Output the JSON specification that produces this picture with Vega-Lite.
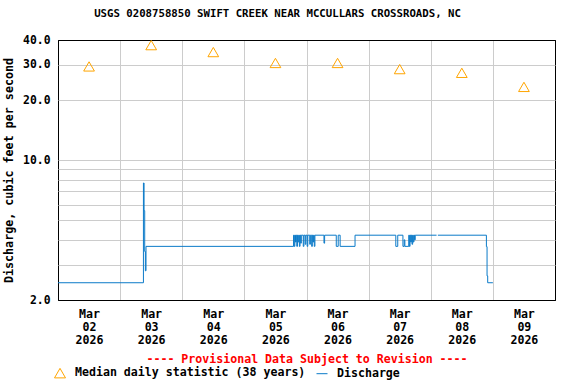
{
  "$schema": "https://vega.github.io/schema/vega-lite/v6.json",
  "autosize": "none",
  "width": 497,
  "height": 260,
  "padding": {"left": 58, "top": 40, "right": 21, "bottom": 84},
  "background": "white",
  "view": {"stroke": "#000000", "strokeWidth": 1},
  "config": {
    "font": "DejaVu Sans Mono",
    "view": {"stroke": "#000000", "strokeWidth": 1},
    "axis": {"labelFont": "DejaVu Sans Mono", "titleFont": "DejaVu Sans Mono", "labelFontWeight": "bold", "titleFontWeight": "bold", "labelColor": "#000", "titleColor": "#000", "gridOpacity": 1, "gridWidth": 1, "ticks": false, "domain": false},
    "legend": {"labelFont": "DejaVu Sans Mono", "labelFontWeight": "bold", "labelFontSize": 11.6, "labelColor": "#000", "labelLimit": 400}
  },
  "title": {"text": "USGS 0208758850 SWIFT CREEK NEAR MCCULLARS CROSSROADS, NC", "font": "DejaVu Sans Mono", "fontSize": 10.7, "fontWeight": "bold", "color": "#000", "anchor": "middle", "dx": -29, "offset": 14},
  "datasets": {
    "median": [
      {"t": "2026-03-02T12:00:00Z", "v": 29.5, "series": "Median daily statistic (38 years)"},
      {"t": "2026-03-03T12:00:00Z", "v": 37.7, "series": "Median daily statistic (38 years)"},
      {"t": "2026-03-04T12:00:00Z", "v": 34.8, "series": "Median daily statistic (38 years)"},
      {"t": "2026-03-05T12:00:00Z", "v": 30.7, "series": "Median daily statistic (38 years)"},
      {"t": "2026-03-06T12:00:00Z", "v": 30.7, "series": "Median daily statistic (38 years)"},
      {"t": "2026-03-07T12:00:00Z", "v": 28.6, "series": "Median daily statistic (38 years)"},
      {"t": "2026-03-08T12:00:00Z", "v": 27.4, "series": "Median daily statistic (38 years)"},
      {"t": "2026-03-09T12:00:00Z", "v": 23.3, "series": "Median daily statistic (38 years)"}
    ],
    "flow": [
      {"t": "2026-03-02T00:00:00Z", "q": 2.44, "seg": 1},
      {"t": "2026-03-03T09:00:00Z", "q": 7.7, "seg": 1},
      {"t": "2026-03-03T09:15:00Z", "q": 5.6, "seg": 1},
      {"t": "2026-03-03T09:30:00Z", "q": 3.5, "seg": 1},
      {"t": "2026-03-03T09:45:00Z", "q": 2.8, "seg": 1},
      {"t": "2026-03-03T10:00:00Z", "q": 3.71, "seg": 1},
      {"t": "2026-03-05T19:00:00Z", "q": 4.22, "seg": 1},
      {"t": "2026-03-05T19:15:00Z", "q": 3.71, "seg": 1},
      {"t": "2026-03-05T19:30:00Z", "q": 4.22, "seg": 1},
      {"t": "2026-03-05T19:45:00Z", "q": 3.9, "seg": 1},
      {"t": "2026-03-05T20:00:00Z", "q": 4.22, "seg": 1},
      {"t": "2026-03-05T20:15:00Z", "q": 3.71, "seg": 1},
      {"t": "2026-03-05T20:30:00Z", "q": 4.22, "seg": 1},
      {"t": "2026-03-05T20:45:00Z", "q": 3.9, "seg": 1},
      {"t": "2026-03-05T21:00:00Z", "q": 4.22, "seg": 1},
      {"t": "2026-03-05T21:15:00Z", "q": 3.71, "seg": 1},
      {"t": "2026-03-05T21:30:00Z", "q": 4.22, "seg": 1},
      {"t": "2026-03-05T21:45:00Z", "q": 3.85, "seg": 1},
      {"t": "2026-03-05T22:00:00Z", "q": 4.22, "seg": 1},
      {"t": "2026-03-05T22:45:00Z", "q": 3.71, "seg": 1},
      {"t": "2026-03-05T23:00:00Z", "q": 4.22, "seg": 1},
      {"t": "2026-03-05T23:30:00Z", "q": 3.8, "seg": 1},
      {"t": "2026-03-05T23:45:00Z", "q": 4.22, "seg": 1},
      {"t": "2026-03-06T00:15:00Z", "q": 3.71, "seg": 1},
      {"t": "2026-03-06T00:30:00Z", "q": 4.22, "seg": 1},
      {"t": "2026-03-06T01:15:00Z", "q": 3.8, "seg": 1},
      {"t": "2026-03-06T01:30:00Z", "q": 4.22, "seg": 1},
      {"t": "2026-03-06T02:00:00Z", "q": 3.71, "seg": 1},
      {"t": "2026-03-06T02:15:00Z", "q": 4.22, "seg": 1},
      {"t": "2026-03-06T02:30:00Z", "q": 3.9, "seg": 1},
      {"t": "2026-03-06T02:45:00Z", "q": 4.22, "seg": 1},
      {"t": "2026-03-06T03:00:00Z", "q": 3.71, "seg": 1},
      {"t": "2026-03-06T03:15:00Z", "q": 4.22, "seg": 1},
      {"t": "2026-03-06T06:45:00Z", "q": 3.85, "seg": 1},
      {"t": "2026-03-06T07:00:00Z", "q": 4.22, "seg": 1},
      {"t": "2026-03-06T11:30:00Z", "q": 3.71, "seg": 1},
      {"t": "2026-03-06T12:15:00Z", "q": 4.22, "seg": 1},
      {"t": "2026-03-06T13:00:00Z", "q": 3.71, "seg": 1},
      {"t": "2026-03-06T18:45:00Z", "q": 4.22, "seg": 1},
      {"t": "2026-03-07T10:30:00Z", "q": 3.71, "seg": 1},
      {"t": "2026-03-07T11:15:00Z", "q": 4.22, "seg": 1},
      {"t": "2026-03-07T13:15:00Z", "q": 3.71, "seg": 1},
      {"t": "2026-03-07T13:45:00Z", "q": 4.0, "seg": 1},
      {"t": "2026-03-07T14:00:00Z", "q": 3.71, "seg": 1},
      {"t": "2026-03-07T15:30:00Z", "q": 4.22, "seg": 1},
      {"t": "2026-03-07T15:45:00Z", "q": 3.71, "seg": 1},
      {"t": "2026-03-07T16:00:00Z", "q": 4.22, "seg": 1},
      {"t": "2026-03-07T16:15:00Z", "q": 3.9, "seg": 1},
      {"t": "2026-03-07T16:30:00Z", "q": 4.22, "seg": 1},
      {"t": "2026-03-07T16:45:00Z", "q": 3.8, "seg": 1},
      {"t": "2026-03-07T17:00:00Z", "q": 4.22, "seg": 1},
      {"t": "2026-03-07T17:15:00Z", "q": 3.9, "seg": 1},
      {"t": "2026-03-07T17:30:00Z", "q": 4.22, "seg": 1},
      {"t": "2026-03-07T17:45:00Z", "q": 4.0, "seg": 1},
      {"t": "2026-03-07T18:00:00Z", "q": 4.22, "seg": 1},
      {"t": "2026-03-08T02:15:00Z", "q": 4.22, "seg": 1},
      {"t": "2026-03-08T02:45:00Z", "q": 4.22, "seg": 2},
      {"t": "2026-03-08T21:30:00Z", "q": 3.7, "seg": 2},
      {"t": "2026-03-08T21:45:00Z", "q": 2.64, "seg": 2},
      {"t": "2026-03-08T22:00:00Z", "q": 2.44, "seg": 2},
      {"t": "2026-03-09T00:00:00Z", "q": 2.44, "seg": 2}
    ]
  },
  "layer": [
    {
      "data": {"name": "flow"},
      "mark": {"type": "line", "interpolate": "step-after", "strokeWidth": 1, "clip": true},
      "encoding": {
        "x": {"field": "t", "type": "temporal"},
        "y": {"field": "q", "type": "quantitative"},
        "detail": {"field": "seg", "type": "nominal"},
        "color": {"datum": "Discharge", "type": "nominal"}
      }
    },
    {
      "data": {"name": "median"},
      "mark": {"type": "point", "filled": false, "size": 115, "strokeWidth": 1, "opacity": 1},
      "encoding": {
        "x": {
          "field": "t", "type": "temporal",
          "scale": {"type": "utc", "domain": [{"year": 2026, "month": 3, "date": 2, "utc": true}, {"year": 2026, "month": 3, "date": 10, "utc": true}]},
          "axis": {
            "title": "---- Provisional Data Subject to Revision ----",
            "titleColor": "#ff0000", "titleFontSize": 11.6, "titlePadding": 8,
            "values": [
              {"year": 2026, "month": 3, "date": 2, "utc": true},
              {"year": 2026, "month": 3, "date": 3, "utc": true},
              {"year": 2026, "month": 3, "date": 4, "utc": true},
              {"year": 2026, "month": 3, "date": 5, "utc": true},
              {"year": 2026, "month": 3, "date": 6, "utc": true},
              {"year": 2026, "month": 3, "date": 7, "utc": true},
              {"year": 2026, "month": 3, "date": 8, "utc": true},
              {"year": 2026, "month": 3, "date": 9, "utc": true},
              {"year": 2026, "month": 3, "date": 10, "utc": true}
            ],
            "labelExpr": "datum.value >= 1773100800000 ? '' : [utcFormat(datum.value, '%b'), utcFormat(datum.value, '%d'), utcFormat(datum.value, '%Y')]",
            "labelOffset": 31, "labelAlign": "center", "labelBaseline": "top", "labelLineHeight": 13,
            "labelFontSize": 11.6, "labelPadding": 8, "labelOverlap": false, "labelFlush": false, "labelBound": false,
            "grid": true,
            "gridColor": {"condition": {"test": "datum.value <= 1772409600000 || datum.value >= 1773100800000", "value": "#000000"}, "value": "#cccccc"}
          }
        },
        "y": {
          "field": "v", "type": "quantitative",
          "scale": {"type": "log", "domain": [2, 40], "nice": false},
          "axis": {
            "title": "Discharge, cubic feet per second",
            "titleFontSize": 11.7, "titlePadding": 8,
            "values": [2, 3, 4, 5, 6, 7, 8, 9, 10, 20, 30, 40],
            "labelExpr": "indexof([2, 10, 20, 30, 40], datum.value) >= 0 ? format(datum.value, '.1f') : ''",
            "labelFontSize": 11.4, "labelPadding": 8, "labelOverlap": false, "grid": true,
            "gridColor": {"condition": {"test": "datum.value == 2 || datum.value == 40", "value": "#000000"}, "value": "#cccccc"}
          }
        },
        "color": {
          "field": "series", "type": "nominal",
          "scale": {"domain": ["Median daily statistic (38 years)", "Discharge"], "range": ["#FFA500", "#0b7ac8"]},
          "legend": {"title": null, "orient": "none", "direction": "horizontal", "legendX": -4, "legendY": 327, "columnPadding": 8, "labelOffset": 9, "symbolSize": 121, "symbolStrokeWidth": 1}
        },
        "shape": {
          "field": "series", "type": "nominal",
          "scale": {"domain": ["Median daily statistic (38 years)", "Discharge"], "range": ["triangle-up", "stroke"]},
          "legend": {"title": null, "orient": "none", "direction": "horizontal", "legendX": -4, "legendY": 327, "columnPadding": 8, "labelOffset": 9, "symbolSize": 121, "symbolStrokeWidth": 1}
        }
      }
    }
  ]
}
